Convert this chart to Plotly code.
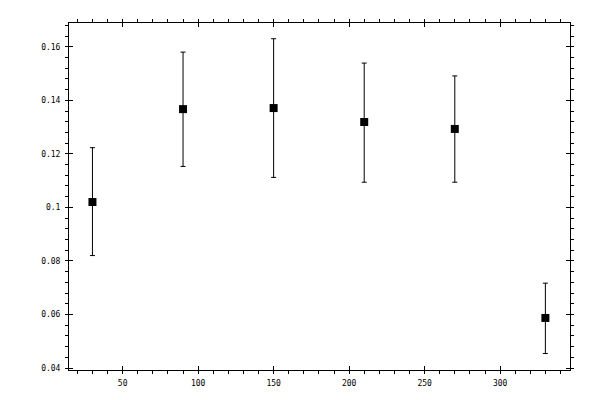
import plotly.graph_objects as go

angles = [30, 90, 150, 210, 270, 330]
values = [0.1020, 0.1367, 0.1371, 0.1319, 0.1293, 0.0587]
upper = [0.1223, 0.1580, 0.1630, 0.1539, 0.1491, 0.0717]
lower = [0.0820, 0.1153, 0.1112, 0.1094, 0.1094, 0.0454]

err_plus = [u - v for u, v in zip(upper, values)]
err_minus = [v - l for v, l in zip(values, lower)]

xr = [14.47, 346.3]
yr = [0.03926, 0.16887]
font = dict(family="DejaVu Sans Mono", size=8, color="black")

fig = go.Figure()
fig.add_trace(go.Scatter(
    x=angles, y=values, mode="markers",
    marker=dict(symbol="square", size=8, color="black"),
    error_y=dict(type="data", symmetric=False, array=err_plus, arrayminus=err_minus,
                 color="black", thickness=1, width=2.5),
    showlegend=False,
))
# invisible trace for the overlay axes
fig.add_trace(go.Scatter(x=[None], y=[None], xaxis="x2", yaxis="y2", showlegend=False))

common = dict(showgrid=False, zeroline=False, showline=True, linecolor="black",
              linewidth=1, mirror="ticks", ticks="outside", ticklen=3,
              tickcolor="black", tickwidth=1, tickfont=font)
fig.update_layout(
    width=592, height=392,
    margin=dict(l=61, r=30, t=11, b=30),
    plot_bgcolor="white", paper_bgcolor="white",
    xaxis=dict(range=xr, tick0=0, dtick=50, ticklabelstandoff=2, **common,
               minor=dict(ticks="outside", dtick=10, tick0=0, ticklen=3,
                          tickcolor="black", tickwidth=1, showgrid=False)),
    yaxis=dict(range=yr, tick0=0, dtick=0.02, ticklabelstandoff=3, **common,
               minor=dict(ticks="outside", dtick=0.004, tick0=0, ticklen=3,
                          tickcolor="black", tickwidth=1, showgrid=False)),
    xaxis2=dict(range=xr, overlaying="x", tick0=0, dtick=50, showgrid=False,
                zeroline=False, showline=False, mirror="ticks", ticks="inside",
                ticklen=4, tickcolor="black", tickwidth=1, showticklabels=False),
    yaxis2=dict(range=yr, overlaying="y", tick0=0, dtick=0.02, showgrid=False,
                zeroline=False, showline=False, mirror="ticks", ticks="inside",
                ticklen=4, tickcolor="black", tickwidth=1, showticklabels=False),
)
fig.write_html("out.html")
